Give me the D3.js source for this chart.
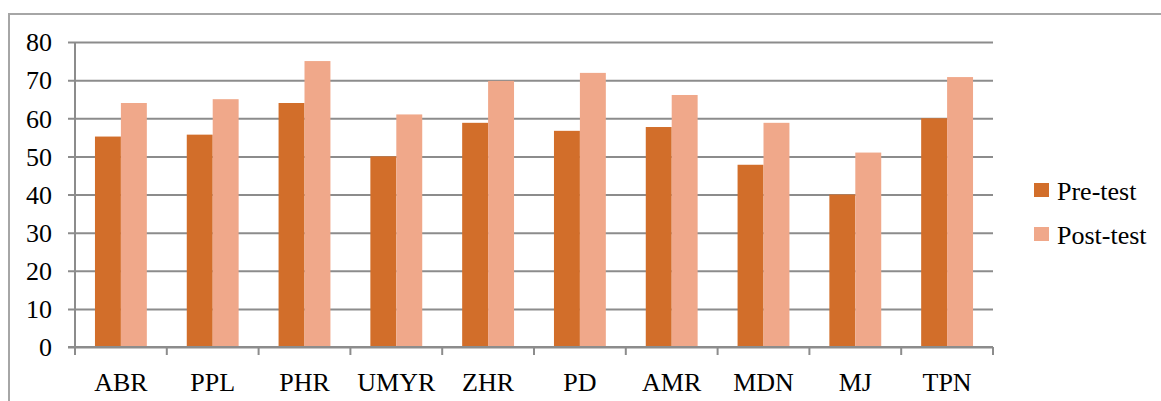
<!DOCTYPE html>
<html><head><meta charset="utf-8">
<script src="https://cdn.jsdelivr.net/npm/d3@7"></script>
<style>html,body{margin:0;padding:0;background:#fff;} svg{display:block;}</style>
</head><body>
<svg id="c" width="1161" height="401"></svg>
<script>
const categories = ["ABR","PPL","PHR","UMYR","ZHR","PD","AMR","MDN","MJ","TPN"];
const seriesNames = ["Pre-test","Post-test"];
const preTest  = [55.2, 55.7, 64, 50, 58.8, 56.7, 57.7, 47.8, 40, 60];
const postTest = [64, 65, 75, 61, 69.8, 71.9, 66.1, 58.8, 51, 70.8];
const yTicks = [0,10,20,30,40,50,60,70,80];
const colors = ["#D26E2A","#F0A88A"];

(function(){
const svg = d3.select("#c");
const fs = "26px", ff = "Liberation Serif";

// outer frame
svg.append("rect").attr("x",9).attr("y",14).attr("width",1170).attr("height",400)
  .attr("fill","none").attr("stroke","#a6a6a6").attr("stroke-width",2);

const pLeft = 75, pRight = 993, pTop = 42, pBottom = 347;
const x = d3.scaleBand().domain(categories).range([pLeft,pRight]).paddingInner(0.435).paddingOuter(0.2175);
const band = d3.scaleBand().domain(categories).range([pLeft,pRight]);
const y = d3.scaleLinear().domain([0,80]).range([pBottom,pTop]);
const xs = d3.scaleBand().domain(seriesNames).range([0,x.bandwidth()]);

// gridlines + y labels
const gy = svg.append("g").attr("transform",`translate(${pLeft},0)`)
  .call(d3.axisLeft(y).tickValues(yTicks).tickSize(-(pRight-pLeft)).tickPadding(23).tickSizeOuter(0));
gy.select(".domain").remove();
gy.selectAll(".tick line").attr("stroke","#8c8c8c").attr("stroke-width",2).attr("x1",-7);
gy.selectAll(".tick text").style("font-family",ff).style("font-size",fs).attr("fill","#000").attr("dy","0.34em");

// bars
const groups = svg.append("g").selectAll("g").data(categories).join("g")
  .attr("transform",d=>`translate(${x(d)},0)`);
const vals = [preTest, postTest];
groups.selectAll("rect").data((d,i)=>seriesNames.map((s,k)=>({s, v: vals[k][i], k})))
  .join("rect")
  .attr("x",d=>xs(d.s)).attr("width",xs.bandwidth())
  .attr("y",d=>y(d.v)).attr("height",d=>y(0)-y(d.v))
  .attr("fill",d=>colors[d.k]);

// y axis line
svg.append("line").attr("x1",pLeft).attr("x2",pLeft).attr("y1",pTop).attr("y2",pBottom)
  .attr("stroke","#8c8c8c").attr("stroke-width",2);

// x axis with ticks at band boundaries
const gx = svg.append("g").attr("transform",`translate(0,${pBottom})`);
gx.append("line").attr("x1",pLeft-7).attr("x2",pRight).attr("y1",0).attr("y2",0)
  .attr("stroke","#8c8c8c").attr("stroke-width",2);
const bounds = categories.map(c=>band(c)).concat([pRight]);
gx.selectAll("line.t").data(bounds).join("line").attr("class","t")
  .attr("x1",d=>d).attr("x2",d=>d).attr("y1",0).attr("y2",8)
  .attr("stroke","#8c8c8c").attr("stroke-width",2);
gx.selectAll("text").data(categories).join("text")
  .attr("x",d=>band(d)+band.bandwidth()/2).attr("y",44)
  .attr("text-anchor","middle").style("font-family",ff).style("font-size",fs).attr("fill","#000")
  .text(d=>d);

// legend
const lg = svg.append("g");
seriesNames.forEach((s,i)=>{
  const yy = 183 + i*44;
  lg.append("rect").attr("x",1034).attr("y",yy).attr("width",15).attr("height",14).attr("fill",colors[i]);
  lg.append("text").attr("x",1057).attr("y",yy+17).style("font-family",ff).style("font-size",fs)
    .attr("fill","#000").text(s);
});
})();
</script>
</body></html>
